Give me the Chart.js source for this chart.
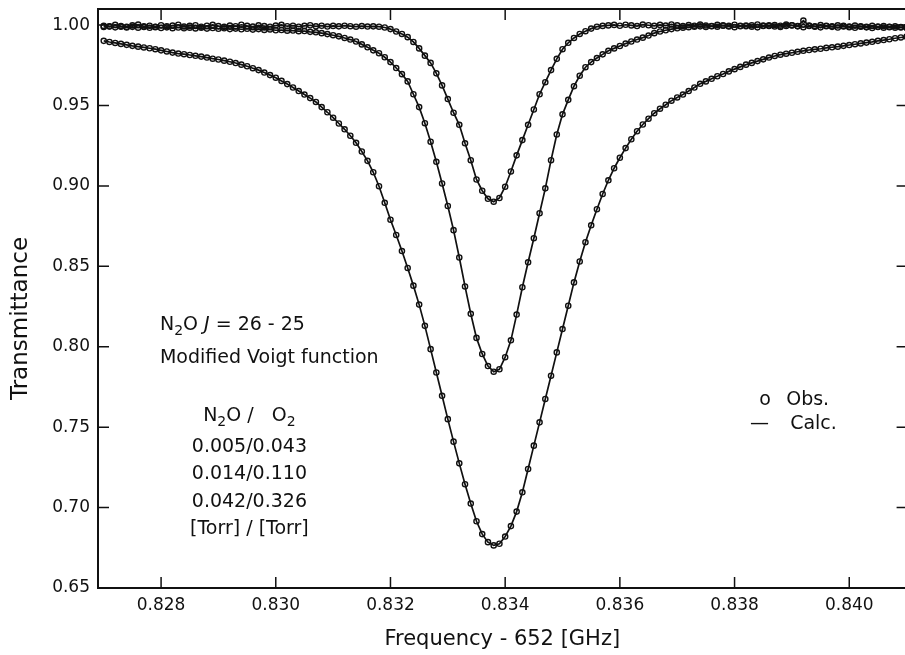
<!DOCTYPE html>
<html>
<head>
<meta charset="utf-8">
<script src="https://cdn.jsdelivr.net/npm/chart.js@4.4.1/dist/chart.umd.min.js"></script>
<style>
  html, body { margin: 0; padding: 0; background: #fff; overflow: hidden; }
  #wrap { width: 912px; height: 655px; }
</style>
</head>
<body>
<div id="wrap"><canvas id="chart" width="912" height="655"></canvas></div>
<script>
// frequency offset from 652 GHz, one observed point per 0.0001 GHz
const freq = [
  0.8270, 0.8271, 0.8272, 0.8273, 0.8274, 0.8275, 0.8276, 0.8277, 0.8278, 0.8279,
  0.8280, 0.8281, 0.8282, 0.8283, 0.8284, 0.8285, 0.8286, 0.8287, 0.8288, 0.8289,
  0.8290, 0.8291, 0.8292, 0.8293, 0.8294, 0.8295, 0.8296, 0.8297, 0.8298, 0.8299,
  0.8300, 0.8301, 0.8302, 0.8303, 0.8304, 0.8305, 0.8306, 0.8307, 0.8308, 0.8309,
  0.8310, 0.8311, 0.8312, 0.8313, 0.8314, 0.8315, 0.8316, 0.8317, 0.8318, 0.8319,
  0.8320, 0.8321, 0.8322, 0.8323, 0.8324, 0.8325, 0.8326, 0.8327, 0.8328, 0.8329,
  0.8330, 0.8331, 0.8332, 0.8333, 0.8334, 0.8335, 0.8336, 0.8337, 0.8338, 0.8339,
  0.8340, 0.8341, 0.8342, 0.8343, 0.8344, 0.8345, 0.8346, 0.8347, 0.8348, 0.8349,
  0.8350, 0.8351, 0.8352, 0.8353, 0.8354, 0.8355, 0.8356, 0.8357, 0.8358, 0.8359,
  0.8360, 0.8361, 0.8362, 0.8363, 0.8364, 0.8365, 0.8366, 0.8367, 0.8368, 0.8369,
  0.8370, 0.8371, 0.8372, 0.8373, 0.8374, 0.8375, 0.8376, 0.8377, 0.8378, 0.8379,
  0.8380, 0.8381, 0.8382, 0.8383, 0.8384, 0.8385, 0.8386, 0.8387, 0.8388, 0.8389,
  0.8390, 0.8391, 0.8392, 0.8393, 0.8394, 0.8395, 0.8396, 0.8397, 0.8398, 0.8399,
  0.8400, 0.8401, 0.8402, 0.8403, 0.8404, 0.8405, 0.8406, 0.8407, 0.8408, 0.8409,
  0.8410
];

// N2O/O2 = 0.005/0.043 Torr
const trans005 = [
  0.9995, 0.9991, 1.0001, 0.9994, 0.9989, 0.9998, 1.0003, 0.9992, 0.9996, 0.9990,
  0.9999, 0.9993, 0.9997, 1.0002, 0.9991, 0.9995, 0.9999, 0.9990, 0.9996, 1.0001,
  0.9994, 0.9989, 0.9997, 0.9993, 1.0002, 0.9995, 0.9991, 0.9998, 0.9994, 0.9990,
  0.9997, 1.0001, 0.9993, 0.9996, 0.9990, 0.9995, 0.9999, 0.9992, 0.9996, 0.9991,
  0.9995, 0.9992, 0.9996, 0.9993, 0.9990, 0.9994, 0.9991, 0.9992, 0.9990, 0.9985,
  0.9975, 0.9960, 0.9945, 0.9925, 0.9895, 0.9855, 0.9810, 0.9765, 0.9700, 0.9625,
  0.9540, 0.9455, 0.9380, 0.9265, 0.9160, 0.9040, 0.8970, 0.8920, 0.8902, 0.8925,
  0.8995, 0.9090, 0.9190, 0.9285, 0.9380, 0.9475, 0.9570, 0.9645, 0.9720, 0.9790,
  0.9850, 0.9890, 0.9920, 0.9945, 0.9962, 0.9978, 0.9990, 0.9995, 0.9998, 1.0001,
  0.9996, 1.0002, 0.9998, 0.9994, 1.0003, 0.9999, 0.9995, 1.0001, 0.9997, 1.0004,
  0.9998, 0.9994, 1.0000, 0.9996, 1.0003, 0.9997, 0.9993, 1.0001, 0.9998, 0.9995,
  1.0002, 0.9996, 0.9993, 0.9999, 1.0004, 0.9997, 0.9994, 1.0000, 0.9996, 1.0003,
  0.9998, 0.9994, 1.0028, 0.9997, 0.9993, 1.0000, 0.9996, 0.9992, 0.9998, 0.9995,
  0.9991, 0.9997, 0.9993, 0.9989, 0.9995, 0.9991, 0.9994, 0.9990, 0.9992, 0.9988,
  0.9990
];

// N2O/O2 = 0.014/0.110 Torr
const trans014 = [
  0.9988, 0.9992, 0.9986, 0.9990, 0.9985, 0.9989, 0.9984, 0.9988, 0.9983, 0.9987,
  0.9982, 0.9986, 0.9981, 0.9985, 0.9980, 0.9984, 0.9979, 0.9983, 0.9978, 0.9982,
  0.9977, 0.9980, 0.9975, 0.9978, 0.9974, 0.9977, 0.9972, 0.9975, 0.9970, 0.9973,
  0.9968, 0.9969, 0.9965, 0.9966, 0.9962, 0.9963, 0.9958, 0.9955, 0.9950, 0.9944,
  0.9937, 0.9930, 0.9920, 0.9910, 0.9898, 0.9880, 0.9862, 0.9843, 0.9825, 0.9800,
  0.9770, 0.9733, 0.9695, 0.9650, 0.9570, 0.9490, 0.9390, 0.9275, 0.9150, 0.9015,
  0.8875, 0.8725, 0.8555, 0.8375, 0.8205, 0.8055, 0.7955, 0.7880, 0.7845, 0.7860,
  0.7935, 0.8040, 0.8200, 0.8370, 0.8525, 0.8675, 0.8830, 0.8985, 0.9160, 0.9320,
  0.9445, 0.9535, 0.9620, 0.9685, 0.9738, 0.9770, 0.9795, 0.9818, 0.9840, 0.9855,
  0.9870, 0.9885, 0.9898, 0.9910, 0.9922, 0.9935, 0.9950, 0.9960, 0.9968, 0.9975,
  0.9980, 0.9984, 0.9987, 0.9990, 0.9992, 0.9988, 0.9994, 0.9990, 0.9996, 0.9991,
  0.9987, 0.9993, 0.9997, 0.9990, 0.9986, 0.9994, 0.9998, 0.9991, 0.9988, 0.9995,
  0.9999, 0.9992, 0.9987, 0.9994, 0.9990, 0.9986, 0.9993, 0.9989, 0.9985, 0.9991,
  0.9987, 0.9983, 0.9990, 0.9986, 0.9982, 0.9988, 0.9984, 0.9987, 0.9983, 0.9985,
  0.9982
];

// N2O/O2 = 0.042/0.326 Torr
const trans042 = [
  0.9902, 0.9895, 0.9889, 0.9883, 0.9877, 0.9871, 0.9866, 0.9861, 0.9856, 0.9850,
  0.9843, 0.9836, 0.9829, 0.9823, 0.9819, 0.9814, 0.9809, 0.9804, 0.9798, 0.9791,
  0.9786, 0.9779, 0.9772, 0.9764, 0.9754, 0.9744, 0.9732, 0.9720, 0.9705, 0.9689,
  0.9673, 0.9653, 0.9633, 0.9612, 0.9590, 0.9568, 0.9546, 0.9522, 0.9490, 0.9458,
  0.9424, 0.9388, 0.9352, 0.9312, 0.9268, 0.9214, 0.9156, 0.9085, 0.8998, 0.8895,
  0.8790, 0.8695, 0.8595, 0.8490, 0.8380, 0.8262, 0.8130, 0.7985, 0.7840, 0.7695,
  0.7550, 0.7410, 0.7275, 0.7145, 0.7025, 0.6915, 0.6835, 0.6785, 0.6765, 0.6775,
  0.6820, 0.6885, 0.6975, 0.7095, 0.7240, 0.7385, 0.7530, 0.7675, 0.7820, 0.7965,
  0.8110, 0.8255, 0.8400, 0.8530, 0.8650, 0.8755, 0.8855, 0.8950, 0.9035, 0.9110,
  0.9175, 0.9235, 0.9290, 0.9340, 0.9382, 0.9418, 0.9452, 0.9480, 0.9505, 0.9530,
  0.9550, 0.9568, 0.9590, 0.9612, 0.9635, 0.9650, 0.9666, 0.9682, 0.9696, 0.9712,
  0.9726, 0.9740, 0.9754, 0.9765, 0.9776, 0.9787, 0.9798, 0.9808, 0.9816, 0.9822,
  0.9828, 0.9834, 0.9840, 0.9845, 0.9849, 0.9853, 0.9858, 0.9862, 0.9866, 0.9871,
  0.9876, 0.9881, 0.9886, 0.9891, 0.9896, 0.9902, 0.9907, 0.9912, 0.9918, 0.9923,
  0.9928
];

const xTicks = [0.828, 0.830, 0.832, 0.834, 0.836, 0.838, 0.840];
const yTicks = [0.65, 0.70, 0.75, 0.80, 0.85, 0.90, 0.95, 1.00];

const FONT = 'DejaVu Sans';
const INK = '#111';

// text blocks inside the plot, anchored in data coordinates
const notes = [
  { x: 0.82798, y: 0.8148, align: 'left', parts: [['N'], ['2', 'sub'], ['O '], ['J', 'it'], [' = 26 - 25']] },
  { x: 0.82798, y: 0.7942, align: 'left', parts: [['Modified Voigt function']] },
  { x: 0.82954, y: 0.7582, align: 'center', parts: [['N'], ['2', 'sub'], ['O /   O'], ['2', 'sub']] },
  { x: 0.82954, y: 0.7389, align: 'center', parts: [['0.005/0.043']] },
  { x: 0.82954, y: 0.7221, align: 'center', parts: [['0.014/0.110']] },
  { x: 0.82954, y: 0.7047, align: 'center', parts: [['0.042/0.326']] },
  { x: 0.82954, y: 0.6879, align: 'center', parts: [['[Torr] / [Torr]']] },
  { x: 0.83843, y: 0.7681, align: 'left', parts: [['o']] },
  { x: 0.83890, y: 0.7681, align: 'left', parts: [['Obs.']] },
  { x: 0.83827, y: 0.7532, align: 'left', parts: [['\u2014']] },
  { x: 0.83897, y: 0.7532, align: 'left', parts: [['Calc.']] }
];

function drawParts(ctx, parts, x, y, align, size) {
  const fontFor = st => (st === 'it' ? 'italic ' : '') +
    (st === 'sub' ? Math.round(size * 0.72) : size) + 'px "' + FONT + '"';
  let w = 0;
  parts.forEach(([t, st]) => { ctx.font = fontFor(st); w += ctx.measureText(t).width; });
  let cx = align === 'center' ? x - w / 2 : x;
  const base = y + size * 0.36;
  ctx.textAlign = 'left';
  ctx.textBaseline = 'alphabetic';
  parts.forEach(([t, st]) => {
    ctx.font = fontFor(st);
    ctx.fillText(t, cx, st === 'sub' ? base + size * 0.28 : base);
    cx += ctx.measureText(t).width;
  });
}

const framePlugin = {
  id: 'frame',
  afterDatasetsDraw(chart) {
    const { ctx, chartArea: a, scales: { x, y } } = chart;
    ctx.save();
    ctx.strokeStyle = INK;
    ctx.lineWidth = 2;
    ctx.strokeRect(a.left, a.top, a.right - a.left, a.bottom - a.top);
    // tick marks point into the plot on all four sides
    ctx.lineWidth = 1.5;
    ctx.beginPath();
    x.ticks.forEach(t => {
      const px = x.getPixelForValue(t.value);
      ctx.moveTo(px, a.bottom); ctx.lineTo(px, a.bottom - 11);
      ctx.moveTo(px, a.top); ctx.lineTo(px, a.top + 11);
    });
    y.ticks.forEach(t => {
      const py = y.getPixelForValue(t.value);
      ctx.moveTo(a.left, py); ctx.lineTo(a.left + 11, py);
      ctx.moveTo(a.right, py); ctx.lineTo(a.right - 10, py);
    });
    ctx.stroke();

    ctx.fillStyle = INK;
    notes.forEach(n => drawParts(ctx, n.parts, x.getPixelForValue(n.x), y.getPixelForValue(n.y), n.align, 19));

    // y axis title sits a little below the middle of the axis
    ctx.translate(a.left - 77, (a.top + a.bottom) / 2 + 20);
    ctx.rotate(-Math.PI / 2);
    ctx.font = '23px "' + FONT + '"';
    ctx.textAlign = 'center';
    ctx.textBaseline = 'middle';
    ctx.fillText('Transmittance', 0, 0);
    ctx.restore();
  }
};

const series = [trans005, trans014, trans042];

const fixBox = (w, h) => scale => {
  if (w) scale.width = w;
  if (h) scale.height = h;
  scale.paddingLeft = scale.paddingRight = scale.paddingTop = scale.paddingBottom = 0;
};

new Chart(document.getElementById('chart'), {
  type: 'line',
  data: {
    datasets: series.map(vals => ({
      data: freq.map((f, i) => ({ x: f, y: vals[i] })),
      borderColor: INK,
      borderWidth: 1.7,
      pointRadius: 2.6,
      pointBorderWidth: 1.4,
      pointBorderColor: INK,
      pointBackgroundColor: 'rgba(0,0,0,0)',
      tension: 0
    }))
  },
  options: {
    responsive: false,
    animation: false,
    devicePixelRatio: 1,
    layout: { padding: { top: 9, right: 2, left: 0, bottom: 0 } },
    plugins: { legend: { display: false }, tooltip: { enabled: false } },
    scales: {
      x: {
        type: 'linear',
        min: 0.8269,
        max: 0.8410,
        afterBuildTicks: s => { s.ticks = xTicks.map(v => ({ value: v })); },
        afterFit: fixBox(null, 67),
        grid: { display: false, drawTicks: false },
        border: { display: false },
        ticks: {
          padding: 7,
          color: INK,
          font: { family: FONT, size: 17 },
          callback: v => v.toFixed(3)
        },
        title: {
          display: true,
          text: 'Frequency - 652 [GHz]',
          color: INK,
          font: { family: FONT, size: 21 },
          padding: { top: 0, bottom: 3 }
        }
      },
      y: {
        min: 0.65,
        max: 1.01,
        afterBuildTicks: s => { s.ticks = yTicks.map(v => ({ value: v })); },
        afterFit: fixBox(98, null),
        grid: { display: false, drawTicks: false },
        border: { display: false },
        ticks: {
          padding: 8,
          color: INK,
          font: { family: FONT, size: 17 },
          callback: v => v.toFixed(2)
        }
      }
    }
  },
  plugins: [framePlugin]
});
</script>
</body>
</html>
